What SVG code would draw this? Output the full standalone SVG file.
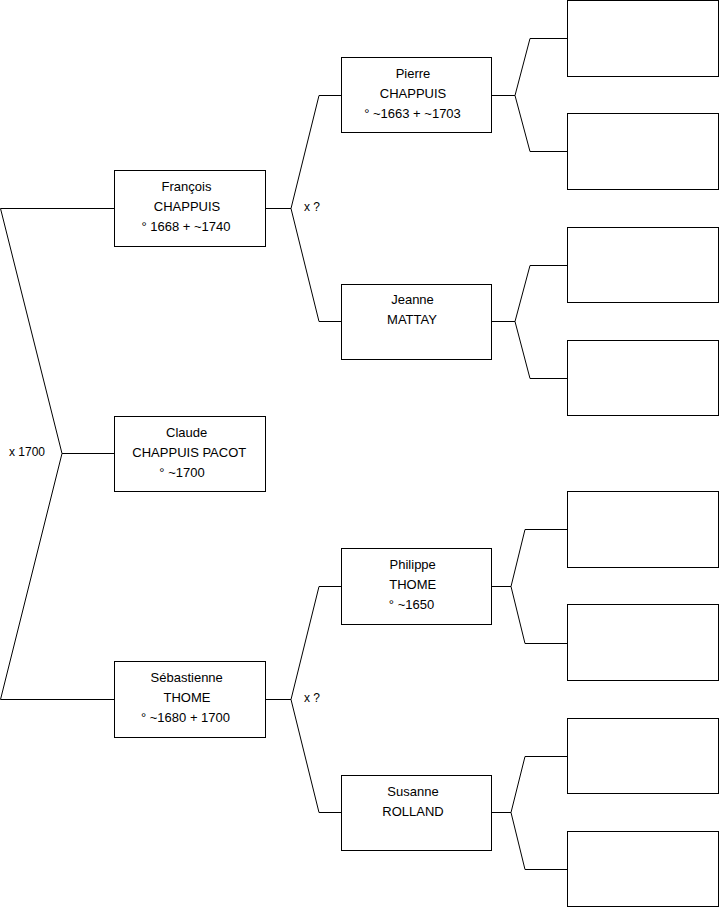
<svg xmlns="http://www.w3.org/2000/svg" width="719" height="908" viewBox="0 0 719 908">
<style>
.box{fill:#fff;stroke:#000;stroke-width:1}
.ln{fill:none;stroke:#000;stroke-width:1}
text{font-family:"Liberation Sans",Arial,sans-serif;font-size:13px;fill:#000;text-anchor:middle}
.lbl{font-size:12px;text-anchor:start}
</style>
<g id="connectors">
<polyline class="ln" points="114,208.5 0.5,208.5 62,453.5"/>
<polyline class="ln" points="62,453.5 114,453.5"/>
<polyline class="ln" points="114,699.5 0.5,699.5 62,453.5"/>
<polyline class="ln" points="265,208.5 291,208.5"/>
<polyline class="ln" points="291,208.5 319,95.5 341,95.5"/>
<polyline class="ln" points="291,208.5 319,321.5 341,321.5"/>
<polyline class="ln" points="265,699.5 291,699.5"/>
<polyline class="ln" points="291,699.5 319,586.5 341,586.5"/>
<polyline class="ln" points="291,699.5 319,812.5 341,812.5"/>
<polyline class="ln" points="491,95.5 515,95.5"/>
<polyline class="ln" points="515,95.5 530,38.5 567,38.5"/>
<polyline class="ln" points="515,95.5 530,151.5 567,151.5"/>
<polyline class="ln" points="491,321.5 515,321.5"/>
<polyline class="ln" points="515,321.5 530,265.5 567,265.5"/>
<polyline class="ln" points="515,321.5 530,378.5 567,378.5"/>
<polyline class="ln" points="491,586.5 511,586.5"/>
<polyline class="ln" points="511,586.5 525,529.5 567,529.5"/>
<polyline class="ln" points="511,586.5 525,643.5 567,643.5"/>
<polyline class="ln" points="491,812.5 511,812.5"/>
<polyline class="ln" points="511,812.5 525,756.5 567,756.5"/>
<polyline class="ln" points="511,812.5 525,869.5 567,869.5"/>
<text class="lbl" x="9" y="456">x 1700</text>
<text class="lbl" x="304" y="211">x ?</text>
<text class="lbl" x="304" y="702">x ?</text>
</g>
<g id="francois">
<rect class="box" x="114.5" y="170.5" width="151" height="76"/>
<text x="186.5" y="191">François</text>
<text x="187" y="211">CHAPPUIS</text>
<text x="186" y="231">° 1668 + ~1740</text>
</g>
<g id="claude">
<rect class="box" x="114.5" y="416.5" width="151" height="75"/>
<text x="186.7" y="437">Claude</text>
<text x="189.3" y="457">CHAPPUIS PACOT</text>
<text x="182" y="477">° ~1700</text>
</g>
<g id="sebastienne">
<rect class="box" x="114.5" y="661.5" width="151" height="76"/>
<text x="186.7" y="682">Sébastienne</text>
<text x="187" y="702">THOME</text>
<text x="185.5" y="722">° ~1680 + 1700</text>
</g>
<g id="pierre">
<rect class="box" x="341.5" y="57.5" width="150" height="75"/>
<text x="413" y="78">Pierre</text>
<text x="413" y="98">CHAPPUIS</text>
<text x="412.5" y="118">° ~1663 + ~1703</text>
</g>
<g id="jeanne">
<rect class="box" x="341.5" y="284.5" width="150" height="75"/>
<text x="412.5" y="304">Jeanne</text>
<text x="412" y="324">MATTAY</text>
</g>
<g id="philippe">
<rect class="box" x="341.5" y="548.5" width="150" height="76"/>
<text x="412.7" y="569">Philippe</text>
<text x="412.7" y="589">THOME</text>
<text x="411.5" y="609">° ~1650</text>
</g>
<g id="susanne">
<rect class="box" x="341.5" y="775.5" width="150" height="75"/>
<text x="413" y="796">Susanne</text>
<text x="413" y="816">ROLLAND</text>
</g>
<g id="empty1"><rect class="box" x="567.5" y="0.5" width="151" height="76"/></g>
<g id="empty2"><rect class="box" x="567.5" y="113.5" width="151" height="76"/></g>
<g id="empty3"><rect class="box" x="567.5" y="227.5" width="151" height="75"/></g>
<g id="empty4"><rect class="box" x="567.5" y="340.5" width="151" height="75"/></g>
<g id="empty5"><rect class="box" x="567.5" y="491.5" width="151" height="76"/></g>
<g id="empty6"><rect class="box" x="567.5" y="604.5" width="151" height="76"/></g>
<g id="empty7"><rect class="box" x="567.5" y="718.5" width="151" height="75"/></g>
<g id="empty8"><rect class="box" x="567.5" y="831.5" width="151" height="75"/></g>
</svg>
